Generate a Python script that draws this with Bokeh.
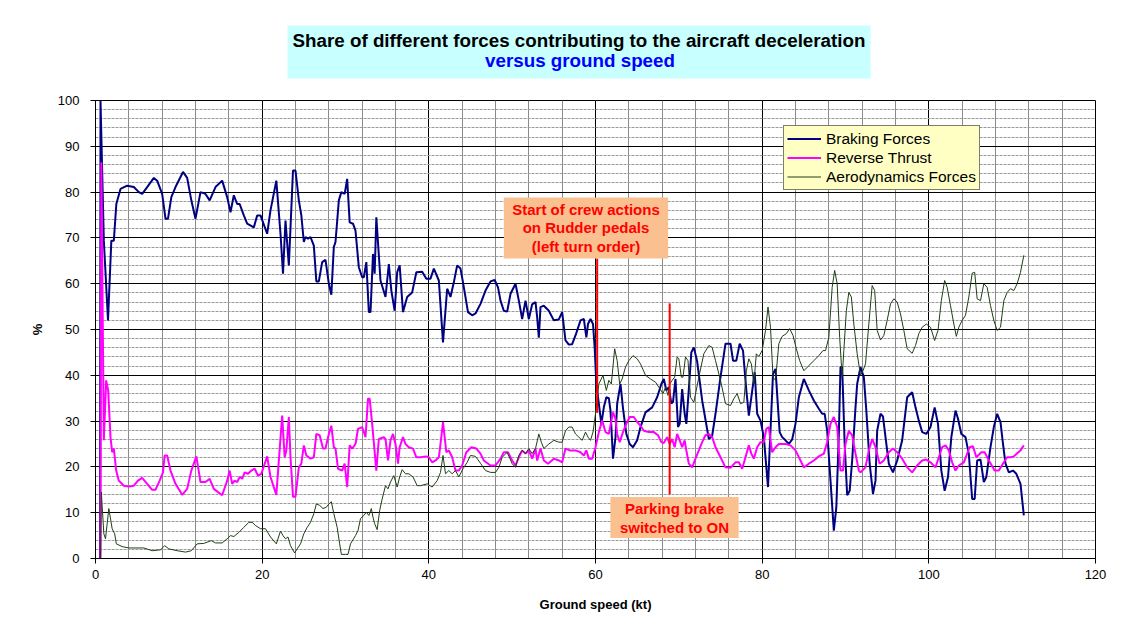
from bokeh.plotting import figure
from bokeh.layouts import column
from bokeh.models import Label, Legend, LegendItem, SingleIntervalTicker, Range1d
from bokeh.embed import file_html
from bokeh.resources import INLINE

FONT = "Liberation Sans"

# ---------------- data (ground speed kt, share %) ----------------
braking = [(0.55,0),(0.6,100),(1.0,69.4),(1.5,52.0),(1.9,69.4),(2.2,69.4),(2.5,77.4),(3.0,80.7),(3.8,81.4),(4.6,81.1),(5.2,80.0),(5.6,79.6),(6.2,81.1),(7.0,83.1),(7.4,82.5),(8.0,79.6),(8.4,74.2),(8.7,74.2),(9.1,78.9),(9.6,81.1),(10.5,84.4),(11.0,83.1),(11.5,78.2),(12.0,74.2),(12.6,80.0),(13.2,79.6),(13.7,78.2),(14.4,81.1),(15.2,82.5),(15.8,78.9),(16.2,75.6),(16.6,79.3),(17.0,77.4),(17.3,77.4),(17.8,74.9),(18.2,73.1),(19.0,72.3),(19.4,74.9),(19.8,74.9),(20.6,70.9),(21.0,76.0),(21.7,82.5),(22.2,70.9),(22.5,62.2),(22.8,73.8),(23.2,64.0),(23.7,84.7),(24.0,84.7),(24.4,78.2),(24.7,74.9),(25.0,69.1),(25.2,70.2),(25.5,69.8),(25.8,70.2),(26.2,68.3),(26.5,60.5),(26.8,60.5),(27.2,64.7),(27.6,65.2),(28.0,60.0),(28.3,57.6),(28.6,68.0),(28.8,69.1),(29.2,78.2),(29.5,80.0),(29.9,79.6),(30.2,82.9),(30.5,73.4),(30.9,73.1),(31.2,71.6),(31.6,63.6),(32.0,61.4),(32.2,61.4),(32.5,64.7),(32.8,53.8),(33.0,53.8),(33.3,66.5),(33.5,62.2),(33.7,74.5),(34.2,60.7),(34.8,57.1),(35.2,64.3),(35.5,58.5),(35.9,54.1),(36.2,62.5),(36.5,64.0),(36.9,53.8),(37.4,57.1),(38.0,58.1),(38.5,62.5),(39.2,62.6),(39.7,61.1),(40.2,61.1),(40.6,63.3),(41.2,60.7),(41.7,47.2),(42.2,58.9),(42.6,57.1),(43.0,60.3),(43.4,64.0),(43.8,63.3),(44.1,60.3),(44.7,53.8),(45.2,53.1),(45.6,53.5),(46.2,55.6),(46.8,58.5),(47.4,60.5),(47.9,60.8),(48.3,59.2),(48.6,56.3),(49.0,54.1),(49.4,53.9),(49.8,57.8),(50.4,60.0),(50.8,56.3),(51.2,52.3),(51.6,56.3),(52.0,52.3),(52.4,55.5),(52.8,56.0),(53.0,52.7),(53.2,48.2),(53.4,54.9),(53.8,55.2),(54.4,54.1),(55.0,52.0),(55.6,52.2),(56.0,53.8),(56.4,47.6),(56.8,46.7),(57.2,46.8),(57.6,48.7),(58.2,52.0),(58.6,52.3),(58.9,48.3),(59.1,51.2),(59.4,52.3),(59.7,51.2),(59.9,46.1),(60.1,38.1),(60.4,33.8),(60.7,29.4),(61.0,33.0),(61.3,35.2),(61.6,35.0),(61.8,32.3),(62.1,21.8),(62.4,26.5),(62.6,33.8),(63.0,38.1),(63.3,32.8),(63.7,27.2),(64.1,25.0),(64.5,24.3),(65.0,25.8),(65.4,28.7),(66.0,31.9),(66.8,33.0),(67.4,35.2),(67.9,38.1),(68.2,39.2),(68.5,36.7),(68.8,37.4),(69.1,33.8),(69.3,34.2),(69.6,39.2),(69.9,28.7),(70.1,29.4),(70.4,37.0),(70.7,31.6),(70.9,29.4),(71.2,37.0),(71.5,45.0),(71.8,46.1),(72.2,43.0),(72.8,34.5),(73.6,26.1),(74.0,26.8),(74.4,31.6),(75.0,39.6),(75.6,46.9),(76.2,46.9),(76.5,43.2),(76.9,43.2),(77.3,46.9),(77.7,45.4),(78.1,36.7),(78.4,31.2),(78.7,35.2),(79.1,40.7),(79.4,31.6),(79.8,30.1),(80.2,26.5),(80.7,15.6),(81.0,28.0),(81.3,40.3),(81.6,41.4),(81.9,33.0),(82.1,27.6),(82.4,26.5),(82.8,25.8),(83.2,25.0),(83.6,26.0),(84.0,29.4),(84.4,35.2),(85.0,39.2),(85.6,36.7),(86.2,34.5),(86.8,32.7),(87.2,31.6),(87.5,31.6),(87.8,27.9),(88.2,17.0),(88.6,6.1),(88.9,11.2),(89.2,27.2),(89.4,41.8),(89.6,41.8),(89.9,25.0),(90.2,13.8),(90.5,14.8),(90.8,21.4),(91.2,33.0),(91.4,38.1),(91.8,41.8),(92.2,39.6),(92.5,32.3),(92.9,20.7),(93.3,14.1),(93.6,17.0),(93.8,27.9),(94.2,31.6),(94.5,31.0),(94.8,26.5),(95.2,20.7),(95.7,18.8),(96.2,21.4),(96.8,25.8),(97.4,35.2),(98.0,36.3),(98.4,33.0),(98.8,30.1),(99.2,27.6),(99.7,27.2),(100.2,28.7),(100.7,33.0),(101.1,29.4),(101.5,19.2),(101.9,14.8),(102.3,17.8),(102.7,26.5),(103.2,32.3),(103.5,30.5),(103.9,27.2),(104.4,26.5),(104.8,22.8),(105.2,13.0),(105.5,13.0),(105.8,21.4),(106.2,21.6),(106.6,16.7),(106.9,17.8),(107.4,24.3),(107.8,28.7),(108.2,31.6),(108.6,29.8),(108.9,25.0),(109.2,20.7),(109.6,18.8),(110.1,19.2),(110.5,18.5),(111.0,16.3),(111.4,9.4)]

reverse = [(0.6,0),(0.7,86.5),(1.0,25.8),(1.28,38.9),(1.52,36.7),(1.8,26.5),(2.0,23.2),(2.2,24.0),(2.48,19.2),(2.8,17.0),(3.4,15.9),(4.0,15.7),(4.6,15.9),(5.1,17.0),(5.6,17.6),(6.2,16.3),(6.8,15.0),(7.2,15.0),(7.7,17.0),(8.1,18.8),(8.3,22.5),(8.6,22.5),(9.0,19.2),(9.6,16.3),(10.4,13.9),(11.0,15.2),(11.5,19.2),(12.1,22.3),(12.6,16.7),(13.2,16.7),(13.7,17.4),(14.2,15.2),(14.7,14.5),(15.2,13.8),(15.8,17.0),(16.1,19.2),(16.4,16.3),(16.7,17.0),(17.0,16.7),(17.3,17.8),(17.6,17.4),(17.9,18.8),(18.3,18.5),(18.7,19.2),(19.1,19.6),(19.5,18.1),(19.9,18.5),(20.6,22.3),(21.0,17.8),(21.7,13.9),(22.4,31.2),(22.7,22.1),(22.9,23.6),(23.2,30.9),(23.4,22.1),(23.7,13.5),(24.0,13.5),(24.4,19.9),(24.7,20.7),(25.0,24.7),(25.3,22.5),(25.8,21.8),(26.2,22.1),(26.5,27.2),(26.9,26.9),(27.3,24.0),(27.6,24.0),(28.0,27.2),(28.3,29.0),(28.6,24.3),(28.8,24.0),(29.1,19.6),(29.6,19.2),(29.9,20.7),(30.2,15.6),(30.5,24.7),(30.8,24.0),(31.2,25.0),(31.5,28.3),(32.0,28.7),(32.4,26.5),(32.7,34.9),(32.9,34.9),(33.2,29.4),(33.7,19.2),(34.0,26.1),(34.6,26.5),(34.8,26.1),(35.1,21.4),(35.4,25.8),(35.7,27.2),(36.0,25.0),(36.3,20.7),(36.5,24.3),(36.9,26.5),(37.2,25.0),(37.6,24.3),(38.1,24.0),(38.5,22.1),(39.0,22.1),(39.7,22.3),(40.0,22.1),(40.4,21.0),(40.8,21.4),(41.2,22.1),(41.4,25.0),(41.7,29.8),(42.1,23.2),(42.4,23.6),(42.8,22.1),(43.2,19.2),(43.6,19.2),(44.0,20.3),(44.5,23.2),(45.1,24.3),(45.7,24.0),(46.2,22.9),(46.6,21.4),(47.4,20.3),(48.0,20.3),(48.6,21.8),(49.0,23.2),(49.5,23.2),(50.0,21.4),(50.4,20.3),(50.8,22.1),(51.2,23.6),(51.6,22.9),(52.0,23.6),(52.4,21.8),(52.8,24.0),(53.0,21.4),(53.4,24.0),(53.8,21.4),(54.3,20.7),(55.0,21.8),(55.6,21.4),(56.0,21.0),(56.4,24.0),(56.9,23.6),(57.6,23.6),(58.2,23.2),(58.6,22.5),(58.9,23.6),(59.2,21.8),(59.6,21.8),(60.0,24.3),(60.4,27.6),(60.8,30.1),(61.2,27.6),(61.6,27.2),(62.1,31.9),(62.4,30.5),(62.6,27.2),(62.9,25.4),(63.3,27.6),(63.7,29.4),(64.1,30.9),(64.6,30.9),(65.0,29.8),(65.4,29.0),(65.8,27.9),(66.4,27.6),(67.0,27.6),(67.5,26.9),(67.9,25.4),(68.2,25.2),(68.6,26.5),(68.9,25.0),(69.2,26.1),(69.5,24.3),(69.8,27.2),(70.1,25.8),(70.4,24.3),(70.7,25.8),(70.9,23.6),(71.2,20.7),(71.6,19.9),(72.0,21.8),(72.4,23.6),(72.8,25.4),(73.2,26.9),(73.6,27.2),(74.0,26.5),(74.4,24.3),(75.0,22.1),(75.6,19.9),(76.2,19.8),(76.8,21.0),(77.2,21.0),(77.6,19.6),(78.0,22.1),(78.4,24.7),(78.7,22.9),(79.0,21.8),(79.4,24.3),(79.8,25.4),(80.2,25.4),(80.5,28.3),(80.8,28.7),(81.2,23.2),(81.6,24.3),(82.0,25.0),(82.4,25.0),(82.8,25.0),(83.4,24.7),(84.0,23.6),(84.6,21.4),(85.0,19.9),(85.6,20.7),(86.2,21.4),(86.8,22.3),(87.4,22.9),(87.8,25.4),(88.2,29.4),(88.6,30.9),(89.0,28.7),(89.4,19.2),(89.7,19.2),(90.0,25.0),(90.4,27.9),(90.8,26.9),(91.2,22.9),(91.6,19.2),(91.8,18.8),(92.4,19.9),(92.8,23.6),(93.2,26.1),(93.6,24.3),(94.1,20.7),(94.6,21.4),(95.2,23.2),(95.7,24.0),(96.2,23.2),(96.8,21.8),(97.4,19.9),(98.0,18.8),(98.6,20.3),(99.2,21.4),(99.7,21.6),(100.2,21.0),(100.8,19.9),(101.2,22.1),(101.6,24.3),(102.0,24.7),(102.4,23.6),(102.8,21.0),(103.2,19.2),(103.6,20.3),(104.2,21.0),(104.6,22.9),(104.9,24.3),(105.3,24.5),(105.7,22.1),(106.3,23.2),(106.7,23.2),(107.2,21.4),(107.9,19.2),(108.4,19.2),(109.0,21.0),(109.4,22.1),(109.8,22.1),(110.2,22.3),(110.6,23.0),(111.0,23.6),(111.4,24.7)]

aero = [(0.6,0),(0.7,14.5),(1.0,5.4),(1.2,4.3),(1.6,10.9),(2.0,6.5),(2.3,5.4),(2.5,3.2),(3.2,2.6),(4.0,2.3),(5.8,2.3),(6.8,1.7),(7.8,1.9),(8.3,2.8),(8.8,2.1),(9.8,1.7),(10.8,1.4),(11.5,1.7),(12.2,3.2),(13.0,3.3),(13.9,3.9),(14.4,3.4),(15.2,3.4),(15.8,4.3),(16.2,5.0),(16.6,4.8),(17.2,5.7),(17.8,6.8),(18.4,7.9),(18.8,7.9),(19.2,7.2),(19.8,6.5),(20.4,6.5),(21.0,4.7),(21.7,3.2),(22.2,6.0),(22.5,5.0),(22.8,4.3),(23.1,4.7),(23.4,2.8),(23.9,1.2),(24.2,2.1),(24.6,3.2),(25.0,5.4),(25.4,6.8),(25.8,7.9),(26.2,9.8),(26.5,11.9),(26.9,11.6),(27.3,10.9),(27.7,11.2),(28.0,11.9),(28.3,12.4),(28.6,9.8),(29.0,6.8),(29.3,3.2),(29.5,0.9),(30.0,0.9),(30.3,0.9),(30.6,3.2),(31.2,5.0),(31.5,6.1),(31.8,8.7),(32.2,9.4),(32.5,10.1),(32.8,9.4),(33.1,10.9),(33.3,9.0),(33.5,7.6),(33.8,6.3),(34.1,10.5),(34.4,13.0),(34.8,15.9),(35.1,15.2),(35.4,16.7),(35.8,18.1),(36.2,15.6),(36.5,17.8),(36.8,19.4),(37.2,18.5),(37.6,18.5),(38.1,17.8),(38.6,15.9),(39.0,15.9),(39.8,16.3),(40.4,15.6),(41.0,17.0),(41.4,18.8),(41.7,22.5),(42.0,18.5),(42.4,19.2),(42.8,18.5),(43.2,19.2),(43.6,17.8),(44.1,19.6),(44.6,21.0),(45.0,22.5),(45.6,22.3),(46.2,20.8),(46.8,19.2),(47.4,18.8),(48.0,18.8),(48.4,19.9),(48.8,22.1),(49.4,23.2),(50.0,20.7),(50.4,19.9),(50.8,22.5),(51.2,23.6),(51.6,22.9),(52.0,24.0),(52.4,22.9),(52.8,24.0),(53.2,27.2),(53.5,25.4),(53.8,24.0),(54.4,25.0),(55.0,25.8),(55.6,25.4),(56.0,25.4),(56.4,27.9),(56.8,28.7),(57.2,28.7),(57.6,27.2),(58.0,26.5),(58.4,25.8),(58.8,27.6),(59.1,26.5),(59.4,25.8),(59.7,27.6),(60.0,31.6),(60.4,38.1),(60.9,40.0),(61.3,36.7),(61.6,38.9),(61.9,38.1),(62.3,45.8),(62.6,43.2),(62.9,38.1),(63.2,39.2),(63.6,41.8),(64.0,43.2),(64.5,44.3),(65.0,43.6),(65.4,42.5),(66.0,40.0),(66.6,39.2),(67.2,38.5),(67.6,37.4),(68.1,36.0),(68.4,37.4),(68.7,35.6),(68.9,38.1),(69.2,38.9),(69.5,39.6),(69.8,44.0),(70.0,43.6),(70.3,39.6),(70.5,39.6),(70.8,44.0),(71.1,43.2),(71.4,35.2),(71.8,34.1),(72.4,39.6),(73.0,44.7),(73.6,46.5),(74.0,46.1),(74.4,43.2),(75.0,38.9),(75.6,33.8),(76.2,33.4),(76.6,34.9),(77.0,36.0),(77.4,33.8),(77.8,34.1),(78.1,41.0),(78.4,43.6),(78.7,42.5),(79.0,38.1),(79.3,44.7),(79.6,44.1),(80.0,45.4),(80.4,49.8),(80.7,54.9),(81.0,50.5),(81.3,39.6),(81.6,38.9),(82.0,46.9),(82.4,48.5),(82.9,49.1),(83.3,50.2),(83.7,48.7),(84.1,45.8),(84.5,43.2),(85.0,41.0),(85.6,42.1),(86.2,43.2),(86.8,44.3),(87.3,45.4),(87.6,45.4),(88.0,48.3),(88.4,59.2),(88.7,62.9),(89.0,60.0),(89.3,48.3),(89.6,39.6),(89.8,45.4),(90.1,54.1),(90.4,58.1),(90.7,57.1),(91.0,51.2),(91.4,44.7),(91.8,40.0),(92.1,41.0),(92.4,42.5),(92.8,51.2),(93.2,59.6),(93.5,58.5),(93.8,49.8),(94.2,47.7),(94.6,48.7),(95.0,52.0),(95.4,55.6),(95.8,56.7),(96.2,56.0),(96.6,53.4),(97.0,49.8),(97.4,45.8),(98.0,44.8),(98.4,46.5),(98.8,49.1),(99.2,50.5),(99.7,51.2),(100.2,50.5),(100.7,47.6),(101.1,49.8),(101.5,56.3),(101.9,60.7),(102.2,59.2),(102.6,55.2),(103.0,51.2),(103.3,48.5),(103.6,50.5),(104.0,52.0),(104.4,53.1),(104.8,57.1),(105.2,62.3),(105.5,62.5),(105.8,56.7),(106.2,56.3),(106.6,60.0),(107.0,59.2),(107.4,55.2),(107.8,52.0),(108.2,49.8),(108.6,50.5),(109.0,56.3),(109.4,58.1),(109.8,58.9),(110.2,58.5),(110.6,60.0),(111.0,62.5),(111.4,66.2)]

series_names = ["Braking Forces", "Reverse Thrust", "Aerodynamics Forces"]

# event markers (ground speed, from %, to %)
event_x = [60.2, 68.9]
event_y0 = [31.8, 14.0]
event_y1 = [65.5, 55.7]

title_1 = "Share of different forces contributing to the aircraft deceleration"
title_2 = "versus ground speed"
note_1 = "Start of crew actions\non Rudder pedals\n(left turn order)"
note_2 = "Parking brake\nswitched to ON"

# ---------------- layout constants (picture pixels) ----------------
W, H = 1131, 616
TH = 90                                   # height of the title strip
FL, FT, FW, FH = 95, 100, 1000, 458       # chart frame placement in picture pixels

# ---------------- title strip (its frame is aligned with the chart frame) ----------------
t = figure(width=W, height=TH, output_backend="svg", toolbar_location=None,
           x_range=Range1d(FL, FL + FW), y_range=Range1d(0, TH),
           x_axis_type=None, y_axis_type=None,
           min_border_left=FL, min_border_right=W - FL - FW, min_border_top=0, min_border_bottom=0,
           background_fill_color="white", border_fill_color="white")
t.outline_line_color = None
t.grid.visible = False
t.quad(left=[287], right=[870], top=[TH - 25], bottom=[TH - 78],
       fill_color="#C8FFFF", line_color=None)
t.add_layout(Label(x=578.5, y=TH - 40, text=title_1, text_align="center",
                   text_baseline="middle", text_font=FONT, text_font_size="18.8px",
                   text_font_style="bold", text_color="black"))
t.add_layout(Label(x=579.5, y=TH - 60, text=title_2, text_align="center",
                   text_baseline="middle", text_font=FONT, text_font_size="18.8px",
                   text_font_style="bold", text_color="#0000FF"))

# ---------------- chart ----------------
CH = H - TH
p = figure(width=W, height=CH, output_backend="svg", toolbar_location=None,
           x_range=Range1d(0, 120), y_range=Range1d(0, 100),
           min_border_left=FL, min_border_right=W - FL - FW,
           min_border_top=FT - TH, min_border_bottom=CH - (FT - TH) - FH,
           background_fill_color="white", border_fill_color="white")
p.outline_line_color = "black"

p.xaxis.ticker = SingleIntervalTicker(interval=20, num_minor_ticks=5)
p.yaxis.ticker = SingleIntervalTicker(interval=10, num_minor_ticks=5)
p.xgrid.ticker = p.xaxis.ticker
p.ygrid.ticker = p.yaxis.ticker

p.xgrid.grid_line_color = "black"
p.xgrid.minor_grid_line_color = "#8a8a8a"
p.ygrid.grid_line_color = "black"
p.ygrid.minor_grid_line_color = "#9a9a9a"
p.ygrid.minor_grid_line_dash = "3 1"

for ax in (p.xaxis[0], p.yaxis[0]):
    ax.axis_line_color = "black"
    ax.major_tick_line_color = "black"
    ax.major_tick_out = 5
    ax.major_tick_in = 0
    ax.minor_tick_line_color = None
    ax.major_label_text_font = FONT
    ax.major_label_text_font_size = "13px"
    ax.major_label_text_color = "black"
    ax.axis_label_text_font = FONT
    ax.axis_label_text_font_size = "13px"
    ax.axis_label_text_font_style = "bold"
    ax.axis_label_text_color = "black"

p.xaxis.axis_label = "Ground speed (kt)"
p.xaxis.major_label_standoff = 6
p.xaxis.axis_label_standoff = 15
p.yaxis.axis_label = "%"
p.yaxis.major_label_standoff = 11
p.yaxis.axis_label_standoff = 10

def xs(data):
    return [a for a, b in data]

def ys(data):
    return [b for a, b in data]

r1 = p.line(xs(braking), ys(braking), line_color="#000080", line_width=2)
r2 = p.line(xs(reverse), ys(reverse), line_color="#FF00FF", line_width=2)
r3 = p.line(xs(aero), ys(aero), line_color="#1E3F14", line_width=1)

p.segment(x0=event_x, y0=event_y0, x1=event_x, y1=event_y1, line_color="#FF0000", line_width=2)

legend = Legend(items=[LegendItem(label=series_names[0], renderers=[r1]),
                       LegendItem(label=series_names[1], renderers=[r2]),
                       LegendItem(label=series_names[2], renderers=[r3])],
                location=(783 - FL, FT + FH - 190))
legend.background_fill_color = "#FFFFC4"
legend.background_fill_alpha = 1
legend.border_line_color = "black"
legend.border_line_width = 1
legend.label_text_font = FONT
legend.label_text_font_size = "15.5px"
legend.label_text_color = "black"
legend.padding = 3
legend.spacing = 0
legend.margin = 0
legend.glyph_width = 34
legend.glyph_height = 19
legend.label_height = 19
legend.label_standoff = 5
p.add_layout(legend)

# screen units: offsets from the frame's bottom-left corner
def sx(px):
    return px - FL

def sy(py):
    return FT + FH - py

def box(cx, cy, w, h, color):
    p.add_layout(Label(x=sx(cx), y=sy(cy), x_units="screen", y_units="screen",
                       text=" ", text_font_size="1px",
                       text_align="center", text_baseline="middle",
                       background_fill_color=color, background_fill_alpha=1,
                       padding={"left": w // 2, "right": w // 2, "top": h // 2, "bottom": h // 2}))

def text(cx, cy, s, color, lh=1.07):
    p.add_layout(Label(x=sx(cx), y=sy(cy), x_units="screen", y_units="screen",
                       text=s, text_align="center", text_baseline="middle",
                       text_font=FONT, text_font_size="15px", text_font_style="bold",
                       text_color=color, text_line_height=lh))

box(585.5, 227.5, 165, 61, "#FAC08F")
text(585.5, 227.5, note_1, "#FF0000")
box(674, 517, 128, 40, "#FAC08F")
text(674, 517.5, note_2, "#FF0000")

layout = column(t, p, spacing=0)
open("out.html", "w").write(file_html(layout, INLINE))
